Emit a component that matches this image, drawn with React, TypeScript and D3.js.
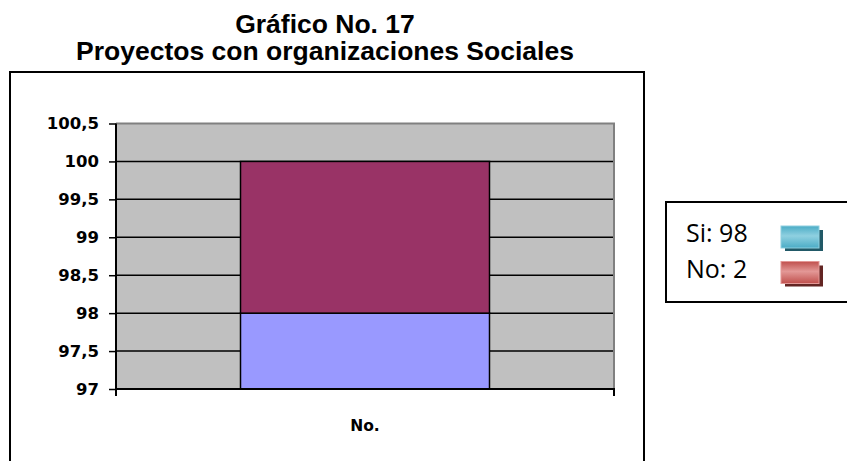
import React, { useRef, useEffect } from "react";
import * as d3 from "d3";

// chart data
const categories = ["No."];
const seriesNames = ["Si", "No"];
const seriesValues = [98, 2];
const barColors = ["#9999FF", "#993366"];
const yTicks = [97, 97.5, 98, 98.5, 99, 99.5, 100, 100.5];
const legendLabels = ["Si: 98", "No: 2"];
const legendColors = [
    { fill: "#4BACC6", light: "#8FD0E0", shadow: "#215967" },
    { fill: "#C0504D", light: "#E39896", shadow: "#632523" },
];
const titleLines = ["Gráfico No. 17", "Proyectos con organizaciones Sociales"];

const App = () => {
    const svgRef = useRef(null);

    useEffect(() => {
        const width = 847;
        const height = 461;
        const plot = { left: 116, right: 614, top: 123.5, bottom: 389 };

        const svg = d3.select(svgRef.current).attr("width", width).attr("height", height);
        svg.selectAll("*").remove();

        // title
        svg.selectAll(".title")
            .data(titleLines)
            .enter()
            .append("text")
            .attr("class", "title")
            .attr("x", 325)
            .attr("y", (d: any, i: number) => 33 + i * 27)
            .attr("text-anchor", "middle")
            .attr("font-family", "'Liberation Sans', Arial, sans-serif")
            .attr("font-weight", "bold")
            .attr("font-size", 26.5)
            .attr("fill", "#000")
            .text((d: any) => d);

        // outer chart frame
        svg.append("rect")
            .attr("x", 10)
            .attr("y", 72)
            .attr("width", 634)
            .attr("height", 420)
            .attr("fill", "none")
            .attr("stroke", "#000")
            .attr("stroke-width", 2);

        const y = d3.scaleLinear().domain([97, 100.5]).range([plot.bottom, plot.top]);
        const x = d3.scaleBand().domain(categories).range([plot.left, plot.right]).paddingInner(0).paddingOuter(0.5);

        // plot background
        svg.append("rect")
            .attr("x", plot.left)
            .attr("y", plot.top)
            .attr("width", plot.right - plot.left)
            .attr("height", plot.bottom - plot.top)
            .attr("fill", "#C0C0C0");

        // gridlines
        svg.selectAll(".grid")
            .data(yTicks.filter((t) => t > 97 && t < 100.5))
            .enter()
            .append("line")
            .attr("class", "grid")
            .attr("x1", plot.left)
            .attr("x2", plot.right)
            .attr("y1", (d: any) => y(d))
            .attr("y2", (d: any) => y(d))
            .attr("stroke", "#000")
            .attr("stroke-width", 1.5);

        // plot border top/right
        svg.append("path")
            .attr("d", `M${plot.left},${plot.top}H${plot.right}V${plot.bottom}`)
            .attr("fill", "none")
            .attr("stroke", "#808080")
            .attr("stroke-width", 2);

        // stacked bars
        const stacked: any[] = [];
        let base = 0;
        seriesValues.forEach((v, i) => {
            stacked.push({ name: seriesNames[i], y0: base, y1: base + v, color: barColors[i] });
            base += v;
        });
        svg.selectAll(".bar")
            .data(stacked)
            .enter()
            .append("rect")
            .attr("class", "bar")
            .attr("x", x(categories[0]) as number)
            .attr("width", x.bandwidth())
            .attr("y", (d: any) => y(d.y1))
            .attr("height", (d: any) => y(Math.max(d.y0, 97)) - y(d.y1))
            .attr("fill", (d: any) => d.color)
            .attr("stroke", "#000")
            .attr("stroke-width", 1.5);

        // y axis
        const yAxis = svg.append("g")
            .attr("transform", `translate(${plot.left},0)`)
            .call(d3.axisLeft(y).tickValues(yTicks).tickSize(7).tickFormat((d: any) => d3.format("")(d).replace(".", ",")));
        yAxis.select(".domain").attr("d", `M0,${plot.top}V${plot.bottom + 7}`).attr("stroke-width", 2);
        yAxis.selectAll(".tick line").attr("stroke-width", 1.5);
        yAxis.selectAll(".tick text")
            .attr("x", -17)
            .attr("font-family", "'DejaVu Sans', Verdana, sans-serif")
            .attr("font-weight", "bold")
            .attr("font-size", 16.5)
            .attr("fill", "#000");

        // x axis
        const xAxis = svg.append("g")
            .attr("transform", `translate(0,${plot.bottom})`)
            .call(d3.axisBottom(x).tickSize(0).tickPadding(31));
        xAxis.select(".domain").attr("stroke-width", 2).attr("d", `M${plot.left},0H${plot.right}V7`);
        xAxis.selectAll(".tick text")
            .attr("font-family", "'DejaVu Sans', Verdana, sans-serif")
            .attr("font-weight", "bold")
            .attr("font-size", 15.5)
            .attr("fill", "#000");

        // legend
        svg.append("rect")
            .attr("x", 666)
            .attr("y", 202)
            .attr("width", 200)
            .attr("height", 100)
            .attr("fill", "#fff")
            .attr("stroke", "#000")
            .attr("stroke-width", 2);

        const defs = svg.append("defs");
        legendColors.forEach((c, i) => {
            const g = defs.append("linearGradient").attr("id", `lg${i}`).attr("x1", 0).attr("y1", 0).attr("x2", 0).attr("y2", 1);
            g.append("stop").attr("offset", "0%").attr("stop-color", c.fill);
            g.append("stop").attr("offset", "45%").attr("stop-color", c.light);
            g.append("stop").attr("offset", "100%").attr("stop-color", c.fill);
        });

        const items = svg.selectAll(".legend")
            .data(legendLabels)
            .enter()
            .append("g")
            .attr("class", "legend")
            .attr("transform", (d: any, i: number) => `translate(0,${i * 35.5})`);
        items.append("text")
            .attr("x", 686)
            .attr("y", 242)
            .attr("font-family", "'Open Sans', Lato, sans-serif")
            .attr("font-size", 25)
            .attr("fill", "#000")
            .text((d: any) => d);
        items.append("rect")
            .attr("x", 785)
            .attr("y", 230)
            .attr("width", 38)
            .attr("height", 21)
            .attr("fill", (d: any, i: number) => legendColors[i].shadow);
        items.append("rect")
            .attr("x", 781)
            .attr("y", 226)
            .attr("width", 38)
            .attr("height", 22)
            .attr("fill", (d: any, i: number) => `url(#lg${i})`)
            .attr("stroke", (d: any, i: number) => legendColors[i].light)
            .attr("stroke-width", 1);
    }, []);

    return <svg ref={svgRef} style={{ position: "absolute", left: 0, top: 0 }}></svg>;
};

export default App;
